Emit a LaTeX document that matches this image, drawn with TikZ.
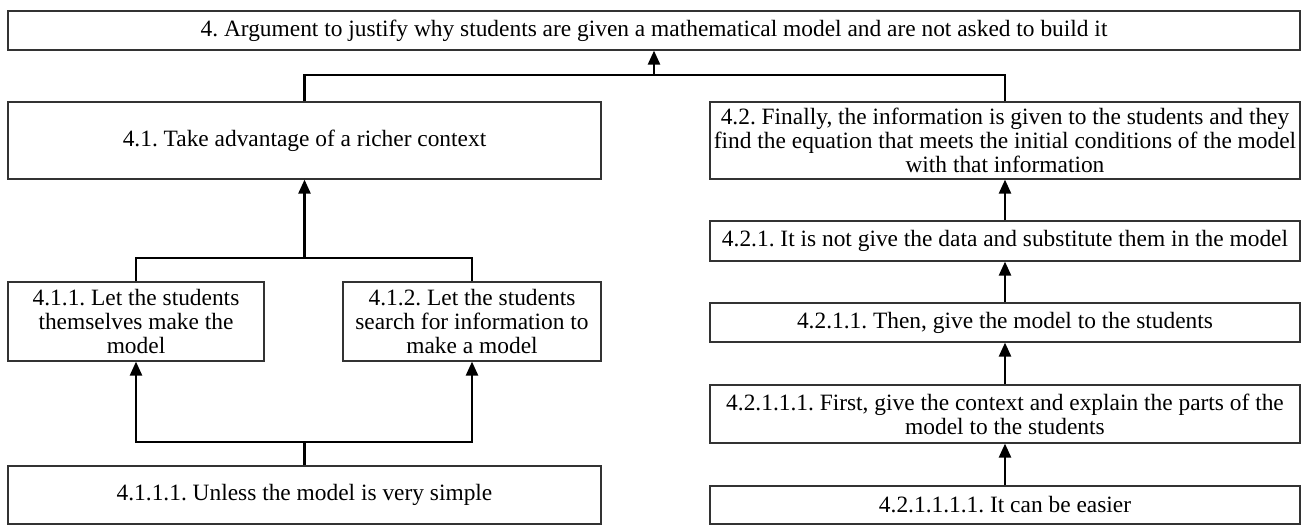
\documentclass[tikz,border=0pt]{standalone}
\usepackage{fontspec}
\setmainfont{Liberation Serif}
\frenchspacing
\usetikzlibrary{arrows.meta, positioning}

\tikzset{
  box/.style={draw=black!80, line width=0.6pt, rectangle, inner sep=0pt, align=center,
    font=\fontsize{11.7}{12}\selectfont},
  conn/.style={line width=1.2pt},
  arr/.style={conn, -{Triangle[length=7pt, width=6pt]}}
}

\begin{document}
\begin{tikzpicture}[x=0.5pt, y=-0.5pt]
\useasboundingbox (0,0) rectangle (1303,525);

% Main argument
\node[box, minimum width=646pt, minimum height=19.5pt] (top) at (654,30.5)
  {4. Argument to justify why students are given a mathematical model and are not asked to build it};

% Left branch
\node[box, minimum width=296.5pt, minimum height=38.5pt] (n41) at (304.5,140.5)
  {4.1. Take advantage of a richer context};
\node[box, minimum width=128pt, minimum height=39.5pt] (n411) at (136,321.5)
  {4.1.1. Let the students\\ themselves make the\\ model};
\node[box, minimum width=129pt, minimum height=39.5pt] (n412) at (472,321.5)
  {4.1.2. Let the students\\ search for information to\\ make a model};
\node[box, minimum width=296.5pt, minimum height=29pt] (n4111) at (304.5,495)
  {4.1.1.1. Unless the model is very simple};

% Right branch
\node[box, minimum width=295pt, minimum height=38.5pt] (n42) at (1005,140.5)
  {4.2. Finally, the information is given to the students and they\\ find the equation that meets the initial conditions of the model\\ with that information};
\node[box, minimum width=295pt, minimum height=20pt] (n421) at (1005,241)
  {4.2.1. It is not give the data and substitute them in the model};
\node[box, minimum width=295pt, minimum height=19.5pt] (n4211) at (1005,322.5)
  {4.2.1.1. Then, give the model to the students};
\node[box, minimum width=295pt, minimum height=29pt] (n42111) at (1005,414)
  {4.2.1.1.1. First, give the context and explain the parts of the\\ model to the students};
\node[box, minimum width=295pt, minimum height=19pt] (n421111) at (1005,505)
  {4.2.1.1.1.1. It can be easier};

% Joints
\coordinate (jtop) at (654,75);
\coordinate (j41) at (304.5,258);
\coordinate (j4111) at (304.5,442);

% Connectors
\draw[conn] (n41.north) |- (jtop);
\draw[conn] (n42.north) |- (jtop);
\draw[arr] (jtop) -- (top.south);

\draw[conn] (n411.north) |- (j41);
\draw[conn] (n412.north) |- (j41);
\draw[arr] (j41) -- (n41.south);

\draw[conn] (n4111.north) -- (j4111);
\draw[arr] (j4111) -| (n411.south);
\draw[arr] (j4111) -| (n412.south);

\draw[arr] (n421.north) -- (n42.south);
\draw[arr] (n4211.north) -- (n421.south);
\draw[arr] (n42111.north) -- (n4211.south);
\draw[arr] (n421111.north) -- (n42111.south);
\end{tikzpicture}
\end{document}
